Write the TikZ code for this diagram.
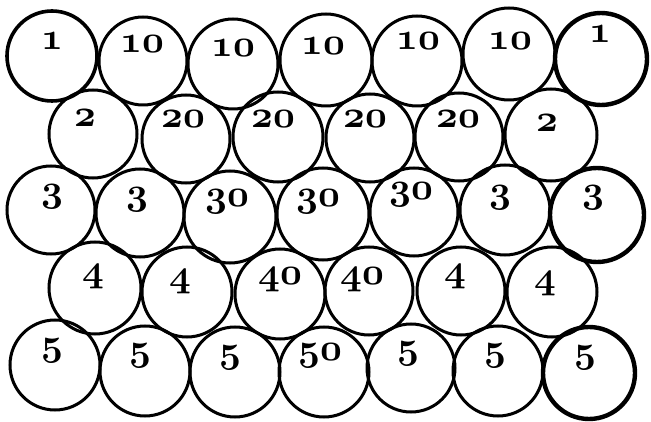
\documentclass[tikz,border=0pt]{standalone}
\font\osnf=cmmib10 at 38pt
\tikzset{
  ring/.style={circle,draw=black,line width=3pt,inner sep=0pt,minimum size=#1},
  ring/.default=90pt,
  heavy/.style={line width=4.4pt},
  num/.style={anchor=base,inner sep=0pt,font=\osnf,text=black}
}
\begin{document}
\begin{tikzpicture}[x=1pt,y=-1pt]
\useasboundingbox[fill=white] (0,0) rectangle (651,422);
% circles: name / x / y / diameter
\foreach \n/\x/\y/\d in {
  a2/143/61/88, a3/233/64/90, a4/326/60/92, a5/417/61/90, a6/509/54/92,
  b1/93/134/88, b2/186/139/88, b3/278/137/90, b4/370/138/88, b5/459/137/88, b6/551/135/92,
  c1/51/210/88, c2/140/213/88, c3/230/217/92, c4/323/214/92, c5/414/212/88, c6/505/210/90,
  d1/95/288/92, d2/187/292/90, d3/280/294/90, d4/369/291/88, d5/461/291/88, d6/552/292/90,
  e1/55/365/90, e2/145/371/90, e3/235/372/90, e4/324/372/90, e5/411/368/88, e6/498/371/90}
  {\node[ring=\d pt] (\n) at (\x,\y) {};}
\node[ring=90pt,line width=3.6pt] (a1) at (52,56) {};
\node[ring=92pt,heavy] (a7) at (601,59) {};
\node[ring=94pt,heavy] (c7) at (597,215) {};
\node[ring=92pt,heavy] (e7) at (589,373) {};
% labels: name / x / baseline y / text
\foreach \n/\x/\y/\t in {
  ta1/52/50/1, ta2/142/53/10, ta3/233/57/10, ta4/323/55/10, ta5/418/50/10, ta6/510/50/10, ta7/600/43/1,
  tb1/85/127/2, tb2/183/128/20, tb3/273/128/20, tb4/365/128/20, tb5/458/128/20, tb6/547/132/2,
  tc1/52/202/3, tc2/137/205/3, tc3/227/207/30, tc4/318/207/30, tc5/411/200/30, tc6/500/203/3, tc7/593/203/3,
  td1/93/282/4, td2/180/287/4, td3/280/285/40, td4/362/285/40, td5/455/282/4, td6/545/289/4,
  te1/52/355/5, te2/140/360/5, te3/230/362/5, te4/320/360/50, te5/408/358/5, te6/495/360/5, te7/585/362/5}
  {\node[num] (\n) at (\x,\y) {\t};}
\end{tikzpicture}
\end{document}
